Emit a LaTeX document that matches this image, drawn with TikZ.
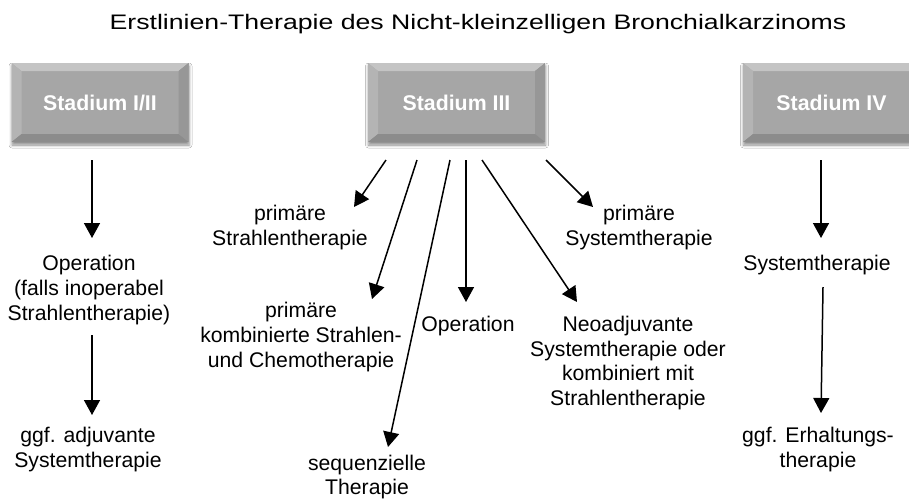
\documentclass[tikz,border=0pt]{standalone}
\usepackage{fontspec}
\setmainfont{Liberation Sans}
\usetikzlibrary{arrows.meta,calc,shadows.blur}
\definecolor{boxgray}{HTML}{A6A6A6}
\definecolor{bevtop}{HTML}{C4C4C4}
\definecolor{bevleft}{HTML}{B4B4B4}
\definecolor{bevright}{HTML}{979797}
\definecolor{bevbot}{HTML}{8C8C8C}
\begin{document}
\begin{tikzpicture}[x=1pt,y=-1pt,
  stagebox/.style={rectangle, minimum width=177pt, minimum height=79pt, inner sep=0pt,
    fill=boxgray, text=white, font=\fontsize{21.3}{24}\selectfont\bfseries,
    blur shadow={shadow xshift=0.5pt, shadow yshift=-3pt, shadow blur radius=3pt, shadow opacity=45},
    path picture={
      \coordinate (nw) at (path picture bounding box.north west);
      \coordinate (ne) at (path picture bounding box.north east);
      \coordinate (sw) at (path picture bounding box.south west);
      \coordinate (se) at (path picture bounding box.south east);
      \fill[bevtop] (nw) -- (ne) -- ($(ne)+(-10pt,-8pt)$) -- ($(nw)+(10pt,-8pt)$) -- cycle;
      \fill[bevleft] (nw) -- ($(nw)+(10pt,-8pt)$) -- ($(sw)+(10pt,8pt)$) -- (sw) -- cycle;
      \fill[bevright] (ne) -- ($(ne)+(-10pt,-8pt)$) -- ($(se)+(-10pt,8pt)$) -- (se) -- cycle;
      \fill[bevbot] (sw) -- ($(sw)+(10pt,8pt)$) -- ($(se)+(-10pt,8pt)$) -- (se) -- cycle;
    }},
  lbl/.style={align=center, font=\fontsize{21.2}{24.6}\selectfont, inner sep=0pt},
  arr/.style={-{Triangle[length=15pt,width=16pt]}, line width=1.5pt}]
\useasboundingbox (0,0) rectangle (909,499);
\fill[white] (0,0) rectangle (909,499);

\node[lbl, font=\fontsize{21}{25}\selectfont] (title) at (478,24) {\scalebox{1.27}[1]{Erstlinien-Therapie des Nicht-kleinzelligen Bronchialkarzinoms}};

\node[stagebox] (s1) at (100,102.5) {Stadium I/II};
\node[stagebox] (s3) at (456.5,102.5) {Stadium III};
\node[stagebox] (s4) at (831.5,102.5) {Stadium IV};

% left column
\node[lbl] (op1) at (89,290) {Operation\\(falls inoperabel\\Strahlentherapie)};
\node[lbl] (adj) at (88,449.5) {ggf. adjuvante\\Systemtherapie};
% right column
\node[lbl] (sys4) at (817,265) {Systemtherapie};
\node[lbl] (erh) at (818,449.5) {ggf. Erhaltungs-\\therapie};
% middle
\node[lbl] (ps) at (290,227.5) {primäre\\Strahlentherapie};
\node[lbl] (pk) at (301,337) {primäre\\kombinierte Strahlen-\\und Chemotherapie};
\node[lbl] (seq) at (367,477) {sequenzielle\\Therapie};
\node[lbl] (op3) at (468,326) {Operation};
\node[lbl] (neo) at (628,363) {Neoadjuvante\\Systemtherapie oder\\kombiniert mit\\Strahlentherapie};
\node[lbl] (psys) at (639,227.5) {primäre\\Systemtherapie};

% connector end points
\coordinate (a1s) at (92,160);  \coordinate (a1e) at (92,238);
\coordinate (a2s) at (92,335);  \coordinate (a2e) at (92,415);
\coordinate (b1s) at (821,160); \coordinate (b1e) at (821,238);
\coordinate (b2s) at (823,287); \coordinate (b2e) at (821,413);
\coordinate (m1s) at (386,160); \coordinate (m1e) at (354,207);
\coordinate (m2s) at (417,160); \coordinate (m2e) at (372,299);
\coordinate (m3s) at (450,160); \coordinate (m3e) at (388,447);
\coordinate (m4s) at (466,160); \coordinate (m4e) at (466,302);
\coordinate (m5s) at (482,160); \coordinate (m5e) at (577,302);
\coordinate (m6s) at (546,160); \coordinate (m6e) at (593,207);

\draw[arr] (a1s) -- (a1e);
\draw[arr] (a2s) -- (a2e);
\draw[arr] (b1s) -- (b1e);
\draw[arr] (b2s) -- (b2e);
\draw[arr] (m1s) -- (m1e);
\draw[arr] (m2s) -- (m2e);
\draw[arr] (m3s) -- (m3e);
\draw[arr] (m4s) -- (m4e);
\draw[arr] (m5s) -- (m5e);
\draw[arr] (m6s) -- (m6e);
\end{tikzpicture}
\end{document}
